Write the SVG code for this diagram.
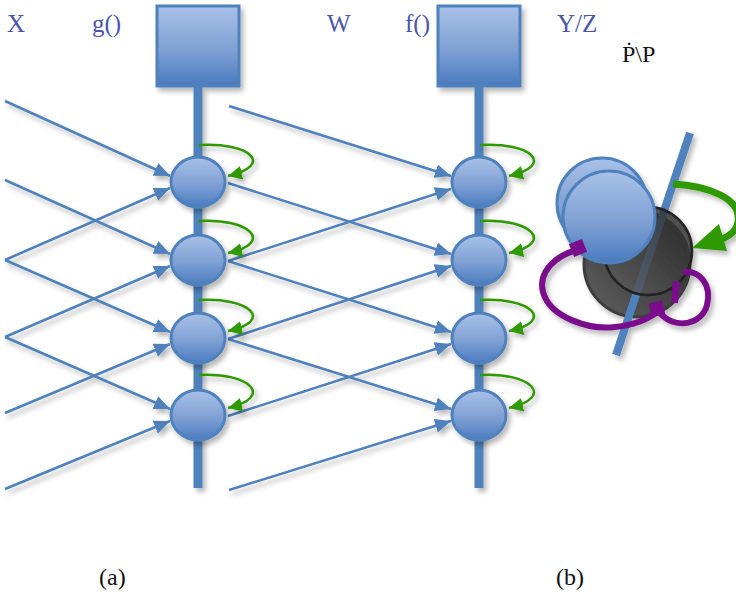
<svg xmlns="http://www.w3.org/2000/svg" width="736" height="593" viewBox="0 0 736 593">
  <defs>
    <style>
      .lbl { font-family: "Liberation Serif", "Times New Roman", serif; font-size: 25px; fill: #4b56a8; }
      .cap { font-family: "Liberation Serif", "Times New Roman", serif; font-size: 24px; fill: #111; }
      .edge { fill: none; stroke: #4f81bd; stroke-width: 2.5; marker-end: url(#arrB); }
      .self { fill: none; stroke: #2e9a06; stroke-width: 2.5; marker-end: url(#arrG); }
      .stem { stroke: #4f81bd; stroke-width: 9; }
      .box { fill: url(#gBlue); stroke: #4f81bd; stroke-width: 3; }
      .unit { fill: url(#gBlue); stroke: #4f81bd; stroke-width: 3; }
      .loop { fill: none; stroke: #7a0a8c; stroke-width: 6; }
    </style>
    <linearGradient id="gBlue" x1="0" y1="0" x2="0" y2="1">
      <stop offset="0" stop-color="#a9c1e8"/>
      <stop offset="0.55" stop-color="#7fa0d4"/>
      <stop offset="1" stop-color="#4a7bbf"/>
    </linearGradient>
    <linearGradient id="gDark" x1="1" y1="0" x2="0" y2="1">
      <stop offset="0" stop-color="#262626"/>
      <stop offset="1" stop-color="#606060"/>
    </linearGradient>
    <marker id="arrB" markerUnits="userSpaceOnUse" markerWidth="18" markerHeight="15" refX="16" refY="7" orient="auto">
      <path d="M0,0 L16,7 L0,14 z" fill="#4f81bd"/>
    </marker>
    <marker id="arrG" markerUnits="userSpaceOnUse" markerWidth="16" markerHeight="15" refX="14" refY="7" orient="auto">
      <path d="M0,0 L14,7 L0,14 z" fill="#2e9a06"/>
    </marker>
    <filter id="shadow" filterUnits="userSpaceOnUse" x="0" y="0" width="736" height="593">
      <feDropShadow dx="3" dy="4" stdDeviation="2.5" flood-color="#000" flood-opacity="0.28"/>
    </filter>
  </defs>

  <rect width="736" height="593" fill="#fff"/>

  <!-- column labels -->
  <g id="labels">
    <text class="lbl" x="7" y="32">X</text>
    <text class="lbl" x="92" y="32">g()</text>
    <text class="lbl" x="327" y="32">W</text>
    <text class="lbl" x="405" y="32">f()</text>
    <text class="lbl" x="557" y="32">Y/Z</text>
    <text class="cap" x="622" y="62">Ṗ\P</text>
    <text class="cap" x="99" y="585">(a)</text>
    <text class="cap" x="556" y="585">(b)</text>
  </g>

  <!-- function g: box with its vertical stem -->
  <g id="node-g" filter="url(#shadow)">
    <line class="stem" x1="198" y1="86" x2="198" y2="488"/>
    <rect class="box" x="157" y="6" width="82" height="80"/>
  </g>
  <!-- function f: box with its vertical stem -->
  <g id="node-f" filter="url(#shadow)">
    <line class="stem" x1="479" y1="86" x2="479" y2="488"/>
    <rect class="box" x="438" y="6" width="82" height="80"/>
  </g>

  <!-- weighted connections -->
  <g id="connectors" filter="url(#shadow)">
    <path class="edge" d="M5,101 L170,176"/>
    <path class="edge" d="M5,180 L170,254"/>
    <path class="edge" d="M5,260 L170,188"/>
    <path class="edge" d="M5,260 L170,332"/>
    <path class="edge" d="M5,337 L170,266"/>
    <path class="edge" d="M5,337 L170,409"/>
    <path class="edge" d="M5,413 L170,344"/>
    <path class="edge" d="M5,489 L170,421"/>

    <path class="edge" d="M229,106 L451,176"/>
    <path class="edge" d="M228,183 L451,254"/>
    <path class="edge" d="M228,261 L451,189"/>
    <path class="edge" d="M228,261 L451,332"/>
    <path class="edge" d="M228,339 L451,266"/>
    <path class="edge" d="M228,339 L451,409"/>
    <path class="edge" d="M228,416 L451,344"/>
    <path class="edge" d="M229,490 L451,421"/>
  </g>

  <!-- units of g -->
  <g id="g1" filter="url(#shadow)"><ellipse class="unit" cx="198" cy="182" rx="27" ry="25"/></g>
  <g id="g2" filter="url(#shadow)"><ellipse class="unit" cx="198" cy="260" rx="27" ry="25"/></g>
  <g id="g3" filter="url(#shadow)"><ellipse class="unit" cx="198" cy="338" rx="27" ry="25"/></g>
  <g id="g4" filter="url(#shadow)"><ellipse class="unit" cx="198" cy="415" rx="27" ry="25"/></g>
  <!-- units of f -->
  <g id="f1" filter="url(#shadow)"><ellipse class="unit" cx="479" cy="182" rx="27" ry="25"/></g>
  <g id="f2" filter="url(#shadow)"><ellipse class="unit" cx="479" cy="260" rx="27" ry="25"/></g>
  <g id="f3" filter="url(#shadow)"><ellipse class="unit" cx="479" cy="338" rx="27" ry="25"/></g>
  <g id="f4" filter="url(#shadow)"><ellipse class="unit" cx="479" cy="415" rx="27" ry="25"/></g>

  <!-- recurrent self connections -->
  <g id="self-loops" filter="url(#shadow)">
    <path class="self" d="M199,145 C250,142 275,165 228,176"/>
    <path class="self" d="M199,221 C250,218 275,243 228,253"/>
    <path class="self" d="M199,300 C250,297 275,321 228,331"/>
    <path class="self" d="M199,375 C250,372 275,397 228,408"/>
    <path class="self" d="M480,145 C531,142 556,165 509,176"/>
    <path class="self" d="M480,221 C531,218 556,243 509,253"/>
    <path class="self" d="M480,300 C531,297 556,321 509,331"/>
    <path class="self" d="M480,375 C531,372 556,397 509,408"/>
  </g>

  <!-- (b): coupled rotating units -->
  <g id="rotor" filter="url(#shadow)">
    <circle cx="637" cy="264" r="53" fill="url(#gDark)" stroke="#3c3c3c" stroke-width="3"/>
    <line x1="690" y1="133" x2="616" y2="355" stroke="#4f81bd" stroke-width="8"/>
    <circle cx="648" cy="251" r="44" fill="url(#gDark)" fill-opacity="0.8" stroke="#222" stroke-width="2.5"/>
    <circle cx="602" cy="203" r="45" fill="url(#gBlue)" stroke="#4f81bd" stroke-width="3"/>
    <circle cx="609" cy="217" r="46" fill="url(#gBlue)" stroke="#4f81bd" stroke-width="3"/>
    <path class="loop" d="M577,250 C555,256 538,272 543,292 C550,318 590,330 615,327 C635,325 650,318 658,311"/>
    <path class="loop" d="M683,272 C700,270 712,285 707,305 C702,325 675,330 660,313"/>
    <rect x="571" y="241" width="14" height="14" fill="#7a0a8c" transform="rotate(-22 578 248)"/>
    <rect x="650" y="302" width="14" height="14" fill="#7a0a8c" transform="rotate(-12 657 309)"/>
    <rect x="672" y="281" width="7" height="22" fill="#7a0a8c" transform="rotate(5 675 292)"/>
    <path d="M673,184 C708,186 742,198 738,222 C736,233 727,238 716,241" fill="none" stroke="#2e9a06" stroke-width="7"/>
    <polygon points="692,248 719,224 727,251" fill="#2e9a06"/>
  </g>
</svg>
